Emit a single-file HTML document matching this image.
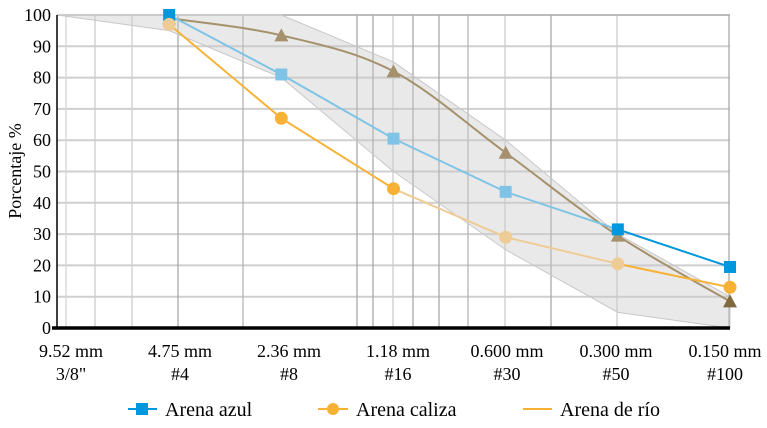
<!DOCTYPE html>
<html><head><meta charset="utf-8"><style>
html,body{margin:0;padding:0;background:#fff}
svg{display:block}
svg text{font-family:"Liberation Serif","DejaVu Serif",serif}
</style></head><body>
<svg id="chart" width="767" height="428" viewBox="0 0 767 428" font-family="Liberation Serif, serif">
<g id="grid"></g>
<g id="band"></g>
<g id="series"></g>
<g id="axes"></g>
<text font-family="Liberation Serif, serif" transform="translate(21,171) rotate(-90)" text-anchor="middle" font-size="18">Porcentaje %</text>
<g>
 <g>
  <line x1="128" y1="409" x2="157" y2="409" stroke="#0097dc" stroke-width="2"/>
  <rect x="136" y="403" width="12" height="12" fill="#0097dc"/>
  <text x="165" y="416" font-size="20" font-family="Liberation Serif, serif">Arena azul</text>
 </g>
 <g>
  <line x1="318" y1="409" x2="348" y2="409" stroke="#f7b236" stroke-width="2"/>
  <circle cx="333" cy="409" r="6" fill="#f7b236"/>
  <text x="356" y="416" font-size="20" font-family="Liberation Serif, serif">Arena caliza</text>
 </g>
 <g>
  <line x1="523" y1="409" x2="552" y2="409" stroke="#f7b236" stroke-width="2"/>
  <text x="560" y="416" font-size="20" font-family="Liberation Serif, serif">Arena de río</text>
 </g>
</g>
</svg>
<script>
const categories = ["9.52 mm|3/8\"","4.75 mm|#4","2.36 mm|#8","1.18 mm|#16","0.600 mm|#30","0.300 mm|#50","0.150 mm|#100"];
const yTicks = [0,10,20,30,40,50,60,70,80,90,100];
const upperLimit = [100,100,100,85,60,30,10];
const lowerLimit = [100,95,80,50,25,5,0];
const azul = [null,100,81,60.5,43.5,31.5,19.5];
const caliza = [null,97,67,44.5,29,20.5,13];
const rio = [null,99,93.5,82,56,29.5,8.5];

const NS="http://www.w3.org/2000/svg";
const FF="Liberation Serif, serif";
const X0=57,X1=730,Y0=328,Y1=15;
const xs=i=>X0+(X1-X0)*i/(categories.length-1);
const ys=v=>Y0-(Y0-Y1)*v/100;
function mk(tag,attrs,parent){const e=document.createElementNS(NS,tag);for(const k in attrs)e.setAttribute(k,attrs[k]);parent.appendChild(e);return e;}
const grid=document.getElementById('grid'),band=document.getElementById('band'),ser=document.getElementById('series'),axes=document.getElementById('axes');

yTicks.forEach(t=>{
  const l=mk('line',{x1:X0,x2:X1,y1:ys(t),y2:ys(t),stroke:'#cfcfcf','stroke-width':2},grid);
  
  
  const tx=mk('text',{x:X0-6,y:ys(t)+6,'text-anchor':'end','font-size':18,'font-family':FF},axes);
  tx.textContent=t;
  
  
});
const vgrid=[[66,'#d6d6d6'],[95,'#cdcdcd'],[132,'#cdcdcd'],[178,'#a9a9a9'],[243,'#b5b5b5'],[357,'#a9a9a9'],[373,'#a9a9a9'],[393,'#cdcdcd'],[413,'#a9a9a9'],[439,'#a9a9a9'],[468,'#b5b5b5'],[505,'#cdcdcd'],[551,'#a9a9a9'],[617,'#cdcdcd'],[729,'#a9a9a9']];
vgrid.forEach(g=>{
  const l=mk('line',{x1:g[0],x2:g[0],y1:Y1,y2:Y0,stroke:g[1],'stroke-width':1.3},grid);
  
  
});
mk('line',{x1:X0,x2:X1,y1:Y1,y2:Y1,stroke:'#a9a9a9','stroke-width':1},grid);

let pts=upperLimit.map((v,i)=>xs(i)+','+ys(v));
for(let i=lowerLimit.length-1;i>=0;i--)pts.push(xs(i)+','+ys(lowerLimit[i]));
const poly=mk('polygon',{points:pts.join(' '),fill:'rgba(200,200,200,0.4)',stroke:'#c8c8c8','stroke-width':1},band);



function drawMarkers(g,name,vals,ptCol,shape){
  vals.forEach((v,i)=>{
    if(v==null)return;
    const x=xs(i),y=ys(v);let m;
    if(shape==='sq')m=mk('rect',{x:x-6,y:y-6,width:12,height:12,fill:ptCol[i]},g);
    else if(shape==='ci')m=mk('circle',{cx:x,cy:y,r:6.5,fill:ptCol[i]},g);
    else m=mk('polygon',{points:`${x},${y-7} ${x-7},${y+6} ${x+7},${y+6}`,fill:ptCol[i]},g);
    
    
  });
}
function drawSeries(name,vals,segCol,ptCol,shape){
  const g=mk('g',{},ser);
  
  
  for(let i=1;i<vals.length;i++){
    if(vals[i-1]==null||vals[i]==null)continue;
    const l=mk('line',{x1:xs(i-1),y1:ys(vals[i-1]),x2:xs(i),y2:ys(vals[i]),stroke:segCol[i-1],'stroke-width':2},g);
    
    
  }
  drawMarkers(g,name,vals,ptCol,shape);
}
function drawSmooth(name,vals,col,ptCol){
  const g=mk('g',{},ser);
  
  
  const p=[];vals.forEach((v,i)=>{if(v!=null)p.push([xs(i),ys(v)]);});
  let d='M'+p[0][0]+','+p[0][1];
  for(let i=0;i<p.length-1;i++){
    const p0=p[Math.max(i-1,0)],p1=p[i],p2=p[i+1],p3=p[Math.min(i+2,p.length-1)];
    const t=0.5/3;
    d+=` C${p1[0]+(p2[0]-p0[0])*t},${p1[1]+(p2[1]-p0[1])*t} ${p2[0]-(p3[0]-p1[0])*t},${p2[1]-(p3[1]-p1[1])*t} ${p2[0]},${p2[1]}`;
  }
  const path=mk('path',{d:d,fill:'none',stroke:col,'stroke-width':2},g);
  
  
  drawMarkers(g,name,vals,ptCol,'tri');
}
const A='#0097dc',AL='#7fc4e6',C='#f7b236',CL='#efcb96',R='#a5916b';
drawSmooth('arena-rio',rio,R,[R,R,R,R,R,R,'#7e6a3e']);
drawSeries('arena-azul',azul,[AL,AL,AL,AL,AL,A],[A,A,AL,AL,AL,A,A],'sq');
drawSeries('arena-caliza',caliza,[C,C,C,CL,CL,C],[C,CL,C,C,CL,CL,C],'ci');

mk('line',{x1:X0,x2:X0,y1:Y1,y2:Y0,stroke:'#000','stroke-width':1.5},axes);
const xa=mk('line',{x1:X0-5,x2:X1,y1:Y0,y2:Y0,stroke:'#000','stroke-width':3.5},axes);


categories.forEach((c,i)=>{
  const [a,b]=c.split('|');const cx=71+109*i;
  const t1=mk('text',{x:cx,y:357,'text-anchor':'middle','font-size':18,'font-family':FF},axes);t1.textContent=a;
  
  
  const t2=mk('text',{x:cx,y:380,'text-anchor':'middle','font-size':18,'font-family':FF},axes);t2.textContent=b;
  
  
});
</script>
</body></html>
